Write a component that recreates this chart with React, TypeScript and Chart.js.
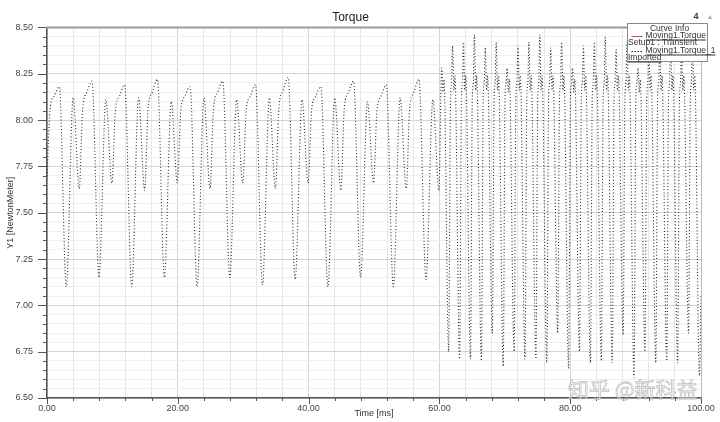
import React, { useEffect, useRef } from "react";
import { Chart, registerables } from "chart.js";

Chart.register(...registerables);

const TITLE = "Torque";
const X_TITLE = "Time [ms]";
const Y_TITLE = "Y1 [NewtonMeter]";
const LEGEND_HEADER = "Curve Info";
const LEGEND_ITEMS = [
  { name: "Moving1.Torque", sub: "Setup1 : Transient", color: "#d04848", dash: [] as number[] },
  { name: "Moving1.Torque_1", sub: "Imported", color: "#222222", dash: [1.5, 1.5] },
];
const CORNER_TEXT = "4";
const WATERMARK = "知乎 @新科益";

const X_MIN = 0;
const X_MAX = 100;
const X_STEP = 4;
const X_LABEL_EVERY = 20;
const Y_MIN = 6.5;
const Y_MAX = 8.5;
const Y_STEP = 0.05;
const Y_LABEL_EVERY = 0.25;

// 0 – 60 ms : slower waveform
const timeA = [
  0.0, 0.45, 1.1, 1.88, 2.95, 4.0, 4.93,
  5.45, 6.1, 6.88, 7.95, 9.0, 9.93,
  10.45, 11.1, 11.88, 12.95, 14.0, 14.93,
  15.45, 16.1, 16.88, 17.95, 19.0, 19.93,
  20.45, 21.1, 21.88, 22.95, 24.0, 24.93,
  25.45, 26.1, 26.88, 27.95, 29.0, 29.93,
  30.45, 31.1, 31.88, 32.95, 34.0, 34.93,
  35.45, 36.1, 36.88, 37.95, 39.0, 39.93,
  40.45, 41.1, 41.88, 42.95, 44.0, 44.93,
  45.45, 46.1, 46.88, 47.95, 49.0, 49.93,
  50.45, 51.1, 51.88, 52.95, 54.0, 54.93,
  55.45, 56.1, 56.88, 57.95, 59.0, 59.93,
];
const torqueA = [
  7.68, 8.05, 8.13, 8.18, 7.1, 8.12, 7.63,
  8.06, 8.15, 8.21, 7.15, 8.11, 7.66,
  8.05, 8.13, 8.19, 7.1, 8.12, 7.62,
  8.06, 8.15, 8.22, 7.15, 8.1, 7.66,
  8.05, 8.13, 8.18, 7.1, 8.12, 7.63,
  8.06, 8.15, 8.21, 7.15, 8.11, 7.66,
  8.05, 8.13, 8.19, 7.11, 8.12, 7.63,
  8.06, 8.16, 8.23, 7.14, 8.11, 7.66,
  8.05, 8.13, 8.18, 7.1, 8.12, 7.62,
  8.06, 8.15, 8.21, 7.15, 8.1, 7.66,
  8.05, 8.13, 8.19, 7.1, 8.12, 7.63,
  8.06, 8.15, 8.22, 7.14, 8.11, 7.62,
];

// 60 – 100 ms : faster waveform
const timeB = [
  60.35, 60.55, 60.7, 61.42, 61.7, 61.85,
  62.02, 62.22, 62.37, 63.09, 63.37, 63.52,
  63.68, 63.88, 64.03, 64.75, 65.03, 65.18,
  65.35, 65.55, 65.7, 66.42, 66.7, 66.85,
  67.02, 67.22, 67.37, 68.09, 68.37, 68.52,
  68.69, 68.89, 69.04, 69.76, 70.04, 70.19,
  70.35, 70.55, 70.7, 71.42, 71.7, 71.85,
  72.02, 72.22, 72.37, 73.09, 73.37, 73.52,
  73.69, 73.89, 74.04, 74.76, 75.04, 75.19,
  75.35, 75.55, 75.7, 76.42, 76.7, 76.85,
  77.02, 77.22, 77.37, 78.09, 78.37, 78.52,
  78.69, 78.89, 79.04, 79.76, 80.04, 80.19,
  80.35, 80.55, 80.7, 81.42, 81.7, 81.85,
  82.02, 82.22, 82.37, 83.09, 83.37, 83.52,
  83.69, 83.89, 84.04, 84.76, 85.04, 85.19,
  85.36, 85.56, 85.71, 86.43, 86.71, 86.86,
  87.02, 87.22, 87.37, 88.09, 88.37, 88.52,
  88.69, 88.89, 89.04, 89.76, 90.04, 90.19,
  90.36, 90.56, 90.71, 91.43, 91.71, 91.86,
  92.02, 92.22, 92.37, 93.09, 93.37, 93.52,
  93.69, 93.89, 94.04, 94.76, 95.04, 95.19,
  95.36, 95.56, 95.71, 96.43, 96.71, 96.86,
  97.02, 97.22, 97.37, 98.09, 98.37, 98.52,
  98.69, 98.89, 99.04, 99.76, 100.0,
];
const torqueB = [
  8.28, 8.15, 8.22, 6.75, 8.12, 8.2,
  8.4, 8.16, 8.24, 6.71, 8.12, 8.2,
  8.42, 8.16, 8.24, 6.71, 8.12, 8.2,
  8.46, 8.16, 8.24, 6.7, 8.12, 8.2,
  8.39, 8.16, 8.24, 6.85, 8.12, 8.2,
  8.42, 8.16, 8.24, 6.67, 8.12, 8.2,
  8.28, 8.15, 8.22, 6.75, 8.12, 8.2,
  8.4, 8.16, 8.24, 6.71, 8.12, 8.2,
  8.42, 8.16, 8.24, 6.71, 8.12, 8.2,
  8.46, 8.16, 8.24, 6.69, 8.12, 8.2,
  8.39, 8.16, 8.24, 6.85, 8.12, 8.2,
  8.42, 8.16, 8.24, 6.66, 8.12, 8.2,
  8.28, 8.15, 8.22, 6.75, 8.12, 8.2,
  8.4, 8.16, 8.24, 6.69, 8.12, 8.2,
  8.42, 8.16, 8.24, 6.7, 8.12, 8.2,
  8.45, 8.16, 8.24, 6.69, 8.12, 8.2,
  8.38, 8.16, 8.24, 6.84, 8.12, 8.2,
  8.42, 8.16, 8.24, 6.61, 8.12, 8.2,
  8.28, 8.15, 8.22, 6.75, 8.12, 8.2,
  8.4, 8.16, 8.24, 6.69, 8.12, 8.2,
  8.42, 8.16, 8.24, 6.7, 8.12, 8.2,
  8.45, 8.16, 8.24, 6.69, 8.12, 8.2,
  8.38, 8.16, 8.24, 6.85, 8.12, 8.2,
  8.42, 8.16, 8.24, 6.62, 7.05,
];

const FONT = "'Liberation Sans', Arial, sans-serif";

const isYMajor = (v: number) => Math.abs(v / Y_LABEL_EVERY - Math.round(v / Y_LABEL_EVERY)) < 1e-6;
const isXMajor = (v: number) => Math.abs(v / X_LABEL_EVERY - Math.round(v / X_LABEL_EVERY)) < 1e-6;

const decorPlugin = {
  id: "decor",
  beforeDraw(chart: any) {
    const ctx = chart.ctx;
    ctx.save();
    ctx.fillStyle = "#ffffff";
    ctx.fillRect(0, 0, chart.width, chart.height);
    ctx.restore();
  },
  afterDraw(chart: any) {
    const ctx = chart.ctx;
    const { left, right, top, bottom } = chart.chartArea;
    const xs = chart.scales.x;
    const ys = chart.scales.y;
    ctx.save();
    // tick marks
    ctx.strokeStyle = "#555";
    ctx.lineWidth = 1;
    ys.ticks.forEach((t: any) => {
      const py = Math.round(ys.getPixelForValue(t.value)) + 0.5;
      const len = isYMajor(t.value) ? 9 : 4;
      ctx.beginPath();
      ctx.moveTo(left - len, py);
      ctx.lineTo(left, py);
      ctx.stroke();
    });
    xs.ticks.forEach((t: any) => {
      const px = Math.round(xs.getPixelForValue(t.value)) + 0.5;
      const len = isXMajor(t.value) ? 6 : 3;
      ctx.beginPath();
      ctx.moveTo(px, bottom);
      ctx.lineTo(px, bottom + len);
      ctx.stroke();
    });
    // top and right frame
    ctx.strokeStyle = "#9a9a9a";
    ctx.lineWidth = 2;
    ctx.beginPath();
    ctx.moveTo(left - 1, top);
    ctx.lineTo(right + 1, top);
    ctx.stroke();
    ctx.strokeStyle = "#bbbbbb";
    ctx.lineWidth = 1;
    ctx.beginPath();
    ctx.moveTo(right + 0.5, top);
    ctx.lineTo(right + 0.5, bottom);
    ctx.stroke();

    // legend box
    const bx = 627.5, by = 23.5, bw = 80, bh = 38;
    ctx.fillStyle = "#ffffff";
    ctx.fillRect(bx, by, bw, bh);
    ctx.strokeStyle = "#8a8a8a";
    ctx.lineWidth = 1;
    ctx.strokeRect(bx, by, bw, bh);
    ctx.font = `8.5px ${FONT}`;
    ctx.fillStyle = "#333";
    ctx.textBaseline = "middle";
    ctx.textAlign = "center";
    ctx.fillText(LEGEND_HEADER, bx + 42, by + 5.5);
    ctx.textAlign = "left";
    LEGEND_ITEMS.forEach((it, i) => {
      const ly = by + 12.5 + i * 15;
      ctx.strokeStyle = it.color;
      ctx.setLineDash(it.dash);
      ctx.lineWidth = 1;
      ctx.beginPath();
      ctx.moveTo(bx + 4, ly + 0.5);
      ctx.lineTo(bx + 15, ly + 0.5);
      ctx.stroke();
      ctx.setLineDash([]);
      ctx.fillStyle = "#333";
      ctx.fillText(it.name, bx + 18, ly - 0.5);
      const w = ctx.measureText(it.name).width;
      ctx.strokeStyle = "#333";
      ctx.beginPath();
      ctx.moveTo(bx + 18, ly + 4);
      ctx.lineTo(bx + 18 + w, ly + 4);
      ctx.stroke();
      ctx.fillText(it.sub, bx + 0.5, ly + 7);
      if (i === LEGEND_ITEMS.length - 1) {
        const w2 = ctx.measureText(it.sub).width;
        ctx.beginPath();
        ctx.moveTo(bx + 0.5, ly + 11);
        ctx.lineTo(bx + 0.5 + w2, ly + 11);
        ctx.stroke();
      }
    });

    // corner marks
    ctx.font = `bold 9px ${FONT}`;
    ctx.fillStyle = "#333";
    ctx.textAlign = "center";
    ctx.fillText(CORNER_TEXT, 696, 17);
    ctx.font = `7px ${FONT}`;
    ctx.fillStyle = "#aaa";
    ctx.fillText("▲", 710, 17);

    // watermark
    ctx.font = `21px 'Noto Sans CJK SC', sans-serif`;
    ctx.textAlign = "left";
    ctx.fillStyle = "rgba(255,255,255,0.55)";
    ctx.fillText(WATERMARK, 568, 389);
    ctx.strokeStyle = "rgba(175,175,175,0.75)";
    ctx.lineWidth = 0.8;
    ctx.strokeText(WATERMARK, 568, 389);
    ctx.restore();
  },
};

export default function App() {
  const ref = useRef<HTMLCanvasElement>(null);

  useEffect(() => {
    if (!ref.current) return;
    Chart.defaults.font.family = FONT;
    const points = [
      ...timeA.map((t, i) => ({ x: t, y: torqueA[i] })),
      ...timeB.map((t, i) => ({ x: t, y: torqueB[i] })),
    ];
    const chart = new Chart(ref.current, {
      type: "line",
      data: {
        datasets: [
          {
            label: LEGEND_ITEMS[1].name,
            data: points,
            borderColor: "#2a2a2a",
            borderWidth: 1.1,
            borderDash: [1, 2.2],
            pointRadius: 0,
            cubicInterpolationMode: "monotone",
            fill: false,
          },
        ],
      },
      options: {
        responsive: false,
        animation: false,
        devicePixelRatio: 1,
        layout: { padding: { left: 0, right: 19, top: 0, bottom: 0 } },
        plugins: {
          legend: { display: false },
          tooltip: { enabled: false },
          title: {
            display: true,
            text: TITLE,
            color: "#222",
            font: { size: 12, weight: "normal", family: FONT },
            padding: { top: 10, bottom: 3 },
          },
        },
        scales: {
          x: {
            type: "linear",
            min: X_MIN,
            max: X_MAX,
            afterFit: (s: any) => {
              s.height = 24;
            },
            ticks: {
              stepSize: X_STEP,
              autoSkip: false,
              maxRotation: 0,
              padding: 5,
              color: "#444",
              font: { size: 9 },
              callback: (v: any) => (isXMajor(Number(v)) ? Number(v).toFixed(2) : ""),
            },
            grid: {
              drawTicks: false,
              color: (c: any) => (c.tick && isXMajor(c.tick.value) ? "#d4d4d4" : "#e6e6e6"),
            },
            border: { color: "#555", width: 1.5 },
            title: {
              display: true,
              text: X_TITLE,
              color: "#333",
              font: { size: 9 },
              padding: { top: 0, bottom: 3.5 },
            },
          },
          y: {
            type: "linear",
            min: Y_MIN,
            max: Y_MAX,
            afterFit: (s: any) => {
              s.width = 47;
            },
            ticks: {
              stepSize: Y_STEP,
              autoSkip: false,
              padding: 14,
              color: "#444",
              font: { size: 9 },
              callback: (v: any) => (isYMajor(Number(v)) ? Number(v).toFixed(2) : ""),
            },
            grid: {
              drawTicks: false,
              color: (c: any) => (c.tick && isYMajor(c.tick.value) ? "#d4d4d4" : "#f0f0f0"),
            },
            border: { color: "#555", width: 1.5 },
            title: {
              display: true,
              text: Y_TITLE,
              color: "#333",
              font: { size: 9 },
              padding: { top: 5, bottom: 0 },
            },
          },
        },
      },
      plugins: [decorPlugin],
    });
    return () => chart.destroy();
  }, []);

  return (
    <div style={{ position: "absolute", left: 0, top: 0, width: 720, height: 422, background: "#fff" }}>
      <canvas ref={ref} width={720} height={422} style={{ display: "block", width: 720, height: 422 }} />
    </div>
  );
}
